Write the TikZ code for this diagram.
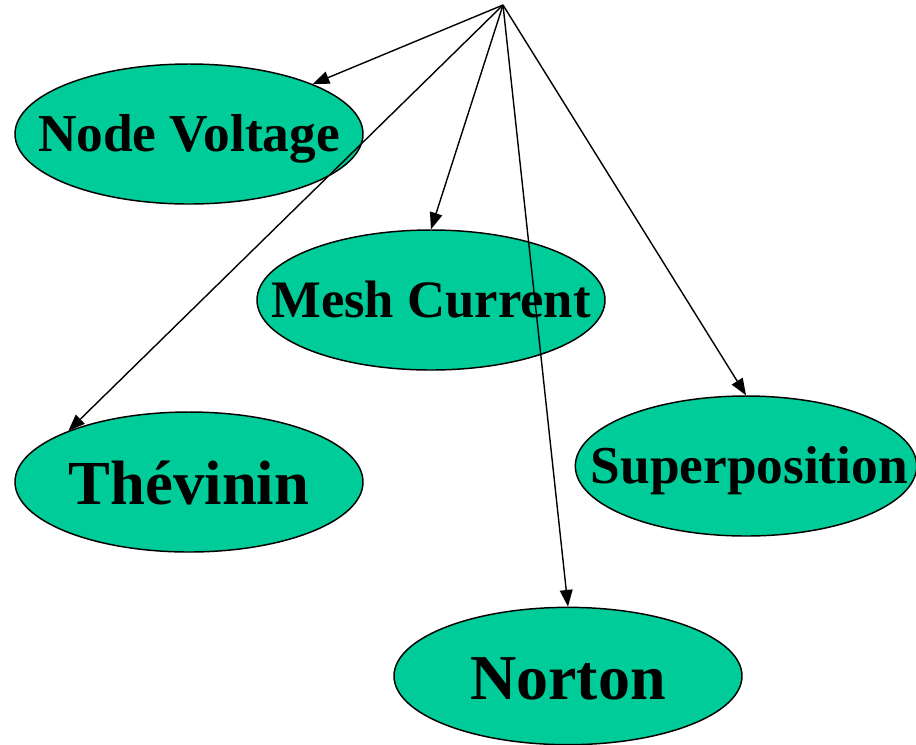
\documentclass[tikz,border=0pt]{standalone}
\usepackage{fontspec}
\setmainfont{Liberation Serif}
\usetikzlibrary{shapes.geometric,arrows.meta}
\definecolor{topicgreen}{RGB}{0,204,153}
\tikzset{
  topic/.style={ellipse, draw=black, line width=1.1pt, fill=topicgreen,
    inner sep=0pt, minimum width=261pt, minimum height=105pt},
  topictext/.style={inner sep=0pt,
    font=\bfseries\fontsize{#1}{#1}\selectfont,
    text height={0.662*#1pt}, text depth=0pt},
  link/.style={-{Triangle[length=12.5pt,width=9.5pt]}, line width=1.05pt}
}
\begin{document}
\begin{tikzpicture}[x=0.75pt,y=-0.75pt]
  \useasboundingbox (0,0) rectangle (916,744);
  % methods: ellipse outline plus centred caption
  \node[topic] (nv) at (189,134) {};
  \node[topictext=40] (nvt) at (nv.center) {Node Voltage};
  \node[topic] (mc) at (431,300) {};
  \node[topictext=39.5] (mct) at (mc.center) {Mesh Current};
  \node[topic] (th) at (189,482) {};
  \node[topictext=47, yshift=-1pt] (tht) at (th.center) {Th\'evinin};
  \node[topic, minimum width=256pt] (sp) at (746,466) {};
  \node[topictext=40, xshift=2.5pt] (spt) at (sp.center) {Superposition};
  \node[topic, minimum height=103pt] (nr) at (568,676) {};
  \node[topictext=48, yshift=-1.5pt] (nrt) at (nr.center) {Norton};
  % fan of arrows from the common point
  \coordinate (hub) at (503,5);
  \draw[link] (hub) -- (nv.22.4);
  \draw[link] (hub) -- (mc.north);
  \draw[link] (hub) -- (th.157.7);
  \draw[link] (hub) -- (sp.north);
  \draw[link] (hub) -- (nr.north);
\end{tikzpicture}
\end{document}
